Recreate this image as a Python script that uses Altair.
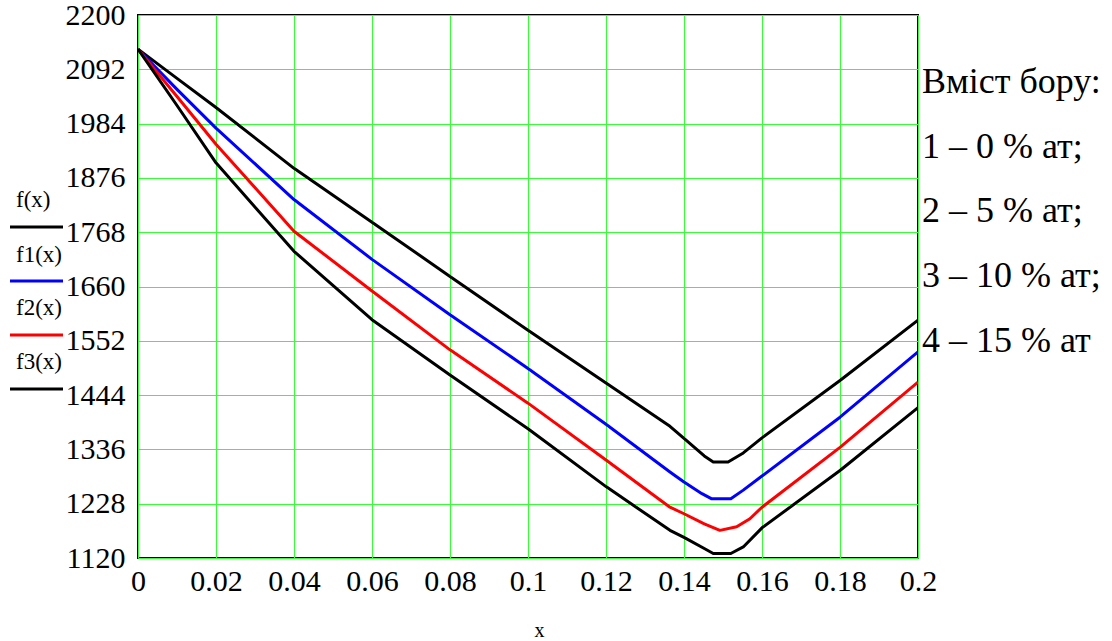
import altair as alt
import pandas as pd

# ---- data ----
x_f0 = [0, 0.01, 0.02, 0.04, 0.06, 0.08, 0.1, 0.12, 0.1364, 0.14, 0.1452,
        0.1475, 0.1513, 0.1552, 0.16, 0.18, 0.2]
y_f0 = [2132, 2074, 2016, 1895, 1788, 1680, 1573, 1468, 1382, 1358, 1323,
        1311, 1311, 1329, 1359, 1473, 1593]
x_f1 = [0, 0.01, 0.02, 0.04, 0.06, 0.08, 0.1, 0.12, 0.1364, 0.14, 0.1446,
        0.147, 0.152, 0.1552, 0.16, 0.18, 0.2]
y_f1 = [2132, 2052, 1975, 1833, 1714, 1604, 1497, 1386, 1291, 1271, 1248,
        1238, 1238, 1255, 1283, 1400, 1530]
x_f2 = [0, 0.01, 0.02, 0.04, 0.06, 0.08, 0.1, 0.12, 0.1364, 0.14, 0.1452,
        0.1492, 0.1535, 0.1569, 0.16, 0.18, 0.2]
y_f2 = [2132, 2038, 1943, 1770, 1651, 1534, 1428, 1315, 1221, 1208, 1188,
        1175, 1182, 1198, 1221, 1340, 1470]
x_f3 = [0, 0.01, 0.02, 0.04, 0.06, 0.08, 0.1, 0.12, 0.1364, 0.14, 0.1452,
        0.1475, 0.152, 0.1552, 0.16, 0.18, 0.2]
y_f3 = [2132, 2020, 1906, 1730, 1594, 1484, 1377, 1262, 1175, 1161, 1139,
        1129, 1129, 1142, 1180, 1294, 1419]

series_names = ["f(x)", "f1(x)", "f2(x)", "f3(x)"]
series_colors = ["#000000", "#0000ff", "#ff0000", "#000000"]
y_ticks = [1120, 1228, 1336, 1444, 1552, 1660, 1768, 1876, 1984, 2092, 2200]
x_ticks = [0, 0.02, 0.04, 0.06, 0.08, 0.1, 0.12, 0.14, 0.16, 0.18, 0.2]
annotation_lines = ["Вміст бору:", "1 – 0 % ат;", "2 – 5 % ат;",
                    "3 – 10 % ат;", "4 – 15 % ат"]

rows = []
for name, xs, ys in zip(series_names, [x_f0, x_f1, x_f2, x_f3],
                        [y_f0, y_f1, y_f2, y_f3]):
    for xv, yv in zip(xs, ys):
        rows.append({"x": xv, "y": yv, "s": name})
df = pd.DataFrame(rows)

FONT = "Liberation Serif"
W, H = 780, 543

lines = alt.Chart(df).mark_line(strokeWidth=3, clip=True, strokeJoin="round").encode(
    x=alt.X("x:Q",
            scale=alt.Scale(domain=[0, 0.2], nice=False, zero=False),
            axis=alt.Axis(values=x_ticks, format=".2~f", title="x",
                          grid=True, gridColor="#33ff33", gridWidth=1,
                          ticks=False, tickSize=0, domain=False,
                          labelFont=FONT, labelFontSize=30, labelColor="black",
                          labelPadding=8, labelFlush=False,
                          titleFont=FONT, titleFontSize=20, titleFontWeight="normal",
                          titleColor="black", titleX=401, titleY=72,
                          titleBaseline="middle")),
    y=alt.Y("y:Q",
            scale=alt.Scale(domain=[1120, 2200], nice=False, zero=False),
            axis=alt.Axis(values=y_ticks, format="d", title=None,
                          grid=True, gridColor="#33ff33", gridWidth=1,
                          ticks=False, tickSize=0, domain=False,
                          labelFont=FONT, labelFontSize=30, labelColor="black",
                          labelPadding=13, labelFlush=False)),
    color=alt.Color("s:N", scale=alt.Scale(domain=series_names, range=series_colors),
                    legend=None),
    detail="s:N",
    order="x:Q",
)

layers = [lines]

# left-hand legend (labels with line samples)
label_y = [200, 255, 308, 362]
sample_y = [227, 281, 335, 389]
for name, col, ly, sy in zip(series_names, series_colors, label_y, sample_y):
    t = alt.Chart(pd.DataFrame({"t": [name]})).mark_text(
        font=FONT, fontSize=23, align="left", baseline="middle", color="black"
    ).encode(x=alt.value(16 - 138), y=alt.value(ly - 15), text="t:N")
    r = alt.Chart(pd.DataFrame({"t": [name]})).mark_rule(
        color=col, strokeWidth=3
    ).encode(x=alt.value(10 - 138), x2=alt.value(63 - 138), y=alt.value(sy - 15))
    layers += [t, r]

# right-hand annotation
ann_base = [93, 158, 222, 287, 352]
for txt, by in zip(annotation_lines, ann_base):
    a = alt.Chart(pd.DataFrame({"t": [txt]})).mark_text(
        font=FONT, fontSize=36, align="left", baseline="alphabetic", color="black"
    ).encode(x=alt.value(922 - 138), y=alt.value(by - 15), text="t:N")
    layers.append(a)

chart = alt.layer(*layers).properties(
    width=W, height=H,
    padding={"left": 138, "top": 15, "right": 1112 - 138 - W, "bottom": 641 - 15 - H},
    autosize=alt.AutoSizeParams(type="none"),
    background="white",
).configure_view(stroke="black", strokeWidth=2)

chart.save("out.html", embed_options={"renderer": "svg", "actions": False})
